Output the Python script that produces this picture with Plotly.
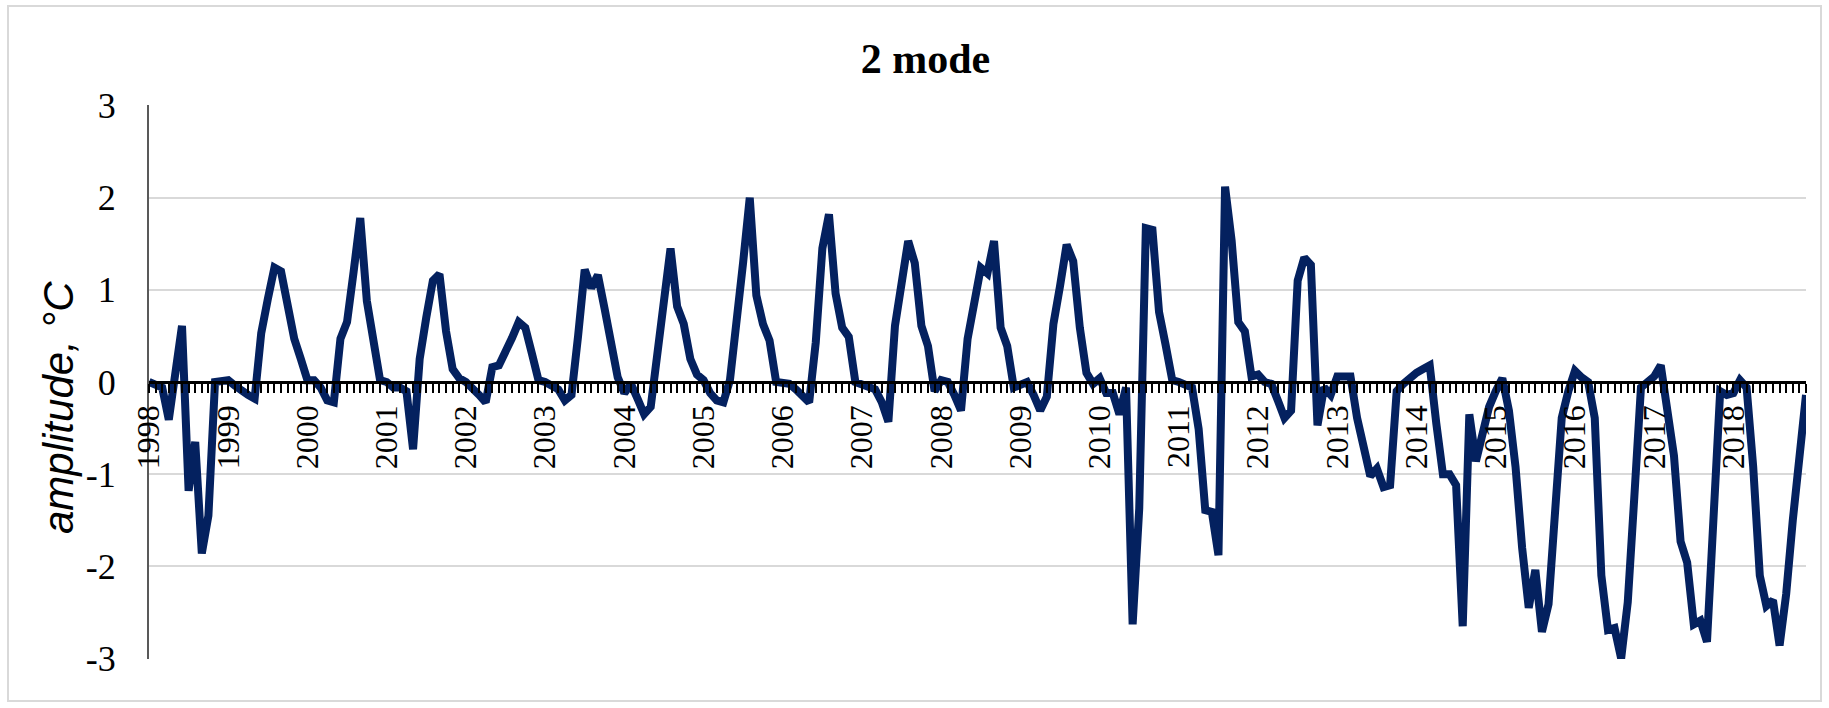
import plotly.graph_objects as go

# Monthly amplitude of mode 2, Jan 1998 .. Dec 2018 (252 values)
amplitude = [
    0.0, -0.02, -0.06, -0.41, 0.1, 0.61, -1.18, -0.65, -1.86, -1.45, 0.0, 0.0,          # 1998
    0.02, -0.04, -0.1, -0.14, -0.18, 0.53, 0.9, 1.24, 1.2, 0.88, 0.47, 0.25,            # 1999
    0.02, 0.02, -0.06, -0.2, -0.22, 0.47, 0.65, 1.2, 1.78, 0.88, 0.45, 0.02,            # 2000
    0.0, -0.06, -0.06, -0.1, -0.73, 0.25, 0.7, 1.1, 1.17, 0.55, 0.14, 0.04,             # 2001
    0.0, -0.06, -0.14, -0.22, 0.16, 0.18, 0.31, 0.48, 0.65, 0.59, 0.31, 0.02,           # 2002
    0.0, -0.04, -0.08, -0.2, -0.14, 0.5, 1.22, 1.02, 1.16, 0.8, 0.39, 0.05,             # 2003
    -0.12, -0.02, -0.18, -0.35, -0.27, 0.35, 0.9, 1.45, 0.82, 0.63, 0.25, 0.08,         # 2004
    0.02, -0.12, -0.2, -0.22, 0.02, 0.6, 1.3, 2.0, 0.94, 0.63, 0.45, 0.0,               # 2005
    -0.01, -0.02, -0.08, -0.15, -0.22, 0.43, 1.45, 1.82, 0.96, 0.59, 0.49, 0.0,         # 2006
    -0.02, -0.04, -0.08, -0.22, -0.43, 0.61, 1.04, 1.53, 1.29, 0.61, 0.39, -0.1,        # 2007
    0.02, 0.0, -0.14, -0.31, 0.47, 0.85, 1.24, 1.18, 1.53, 0.59, 0.39, -0.06,           # 2008
    -0.04, 0.0, -0.14, -0.31, -0.16, 0.63, 1.04, 1.49, 1.31, 0.59, 0.1, -0.02,          # 2009
    0.04, -0.12, -0.12, -0.35, -0.06, -2.63, -1.37, 1.67, 1.65, 0.76, 0.4, 0.02,        # 2010
    0.0, -0.02, -0.06, -0.51, -1.39, -1.41, -1.88, 2.12, 1.53, 0.65, 0.55, 0.06,        # 2011
    0.08, 0.0, -0.02, -0.2, -0.39, -0.31, 1.1, 1.35, 1.27, -0.47, -0.06, -0.14,         # 2012
    0.06, 0.06, 0.06, -0.39, -0.7, -1.02, -0.94, -1.14, -1.12, -0.1, -0.02, 0.05,       # 2013
    0.1, 0.14, 0.18, -0.45, -1.0, -1.0, -1.12, -2.65, -0.35, -0.86, -0.59, -0.27,       # 2014
    -0.1, 0.04, -0.31, -0.92, -1.8, -2.45, -2.04, -2.71, -2.41, -1.53, -0.39, -0.1,     # 2015
    0.12, 0.05, 0.0, -0.39, -2.1, -2.69, -2.67, -3.0, -2.39, -1.24, -0.06, 0.0,         # 2016
    0.06, 0.18, -0.35, -0.8, -1.73, -1.96, -2.63, -2.59, -2.82, -1.53, -0.1, -0.14,     # 2017
    -0.12, 0.02, -0.06, -0.92, -2.1, -2.43, -2.37, -2.86, -2.3, -1.5, -0.85, -0.14,     # 2018
]

years = list(range(1998, 2019))
month_index = list(range(len(amplitude)))
tick_text = [str(years[i // 12]) if i % 12 == 0 else "" for i in month_index]

y_ticks = [-3, -2, -1, 0, 1, 2, 3]
y_tick_text = [str(v) for v in y_ticks]  # plain hyphen minus as in the source

W, H = 1829, 708
L, R, T, B = 149, 23, 105, 49
PW, PH = W - L - R, H - T - B

fig = go.Figure()
fig.add_trace(go.Scatter(
    x=month_index, y=amplitude, mode="lines",
    line=dict(color="#04215f", width=8),
    hoverinfo="skip", showlegend=False,
))

fig.update_layout(
    width=W, height=H,
    margin=dict(l=L, r=R, t=T, b=B, autoexpand=False),
    paper_bgcolor="white", plot_bgcolor="white",
    title=dict(text="<b>2 mode</b>", x=0.506, xref="container", xanchor="center",
               y=1 - 58 / H, yref="container", yanchor="middle",
               font=dict(family="Liberation Serif", size=42, color="black")),
    xaxis=dict(
        range=[0, len(amplitude) - 1], automargin=False,
        tickmode="array", tickvals=month_index, ticktext=tick_text,
        tickangle=-90, ticks="outside", ticklen=9, tickwidth=2, tickcolor="black",
        showline=True, linecolor="black", linewidth=2.5,
        showgrid=False, zeroline=False,
        anchor="free", position=0.5,
        tickfont=dict(family="Liberation Serif", size=32, color="black"),
    ),
    yaxis=dict(
        range=[-3.006, 3.006], automargin=False,
        tickmode="array", tickvals=y_ticks, ticktext=y_tick_text,
        showgrid=True, gridcolor="#d9d9d9", gridwidth=2,
        zeroline=False, showline=True, linecolor="#595959", linewidth=2,
        ticks="", ticklabelstandoff=24,
        tickfont=dict(family="Liberation Serif", size=36, color="black"),
    ),
    shapes=[dict(type="rect", xref="paper", yref="paper",
                 x0=(8 - L) / PW, x1=(1821 - L) / PW,
                 y0=(H - B - 701) / PH, y1=(H - B - 6) / PH,
                 line=dict(color="#d9d9d9", width=2), layer="below")],
    annotations=[dict(text="<i>amplitude, °C</i>", textangle=-90,
                      xref="paper", yref="paper",
                      x=(58 - L) / PW, y=(H - B - 408) / PH,
                      xanchor="center", yanchor="middle", showarrow=False,
                      font=dict(family="Liberation Sans", size=42, color="black"))],
)

fig.write_html(
    "out.html",
    config={"displayModeBar": False, "staticPlot": True},
    post_script="document.body.style.margin='0';document.body.style.overflow='hidden';",
)
